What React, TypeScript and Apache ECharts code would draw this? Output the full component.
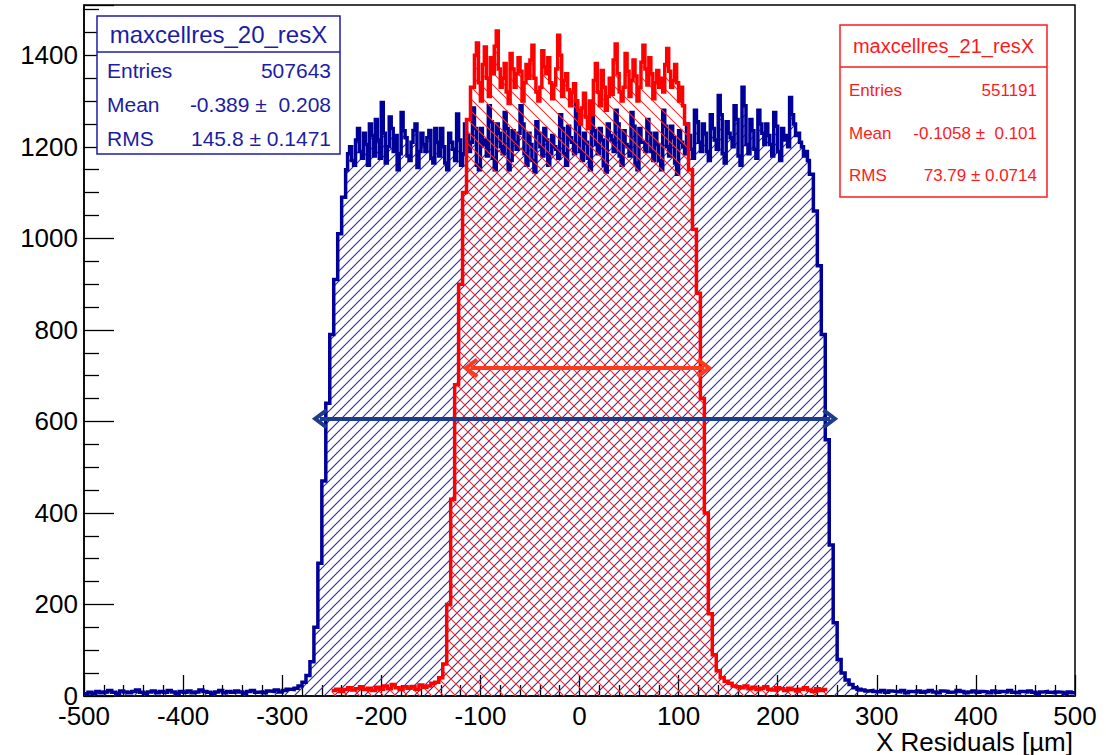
import React, { useEffect, useRef } from 'react';
import * as echarts from 'echarts';

// ---- blue histogram: maxcellres_20_resX ----
// segment starts (lower bin edge, µm) and bin widths (µm)
const blueSegmentStarts = [-500, -292, -236, 232, 284];
const blueSegmentWidths = [4, 4, 2, 4, 4];
const blueTailLeft = [
  5, 8, 6, 10, 7, 9, 12, 8, 6, 11,
  9, 7, 10, 13, 8, 6, 9, 11, 7, 10,
  8, 12, 9, 6, 10, 8, 11, 7, 9, 13,
  10, 8, 6, 9, 12, 7, 10, 8, 11, 9,
  6, 10, 12, 8, 9, 7, 11, 10, 13, 9,
  12, 15,
];
const blueRiseLeft = [14, 17, 22, 30, 45, 75, 150, 290, 470, 640, 790, 910, 1010, 1090];
const bluePlateau = [
  1150, 1185, 1200, 1170, 1160, 1215, 1240, 1190, 1175, 1230,
  1205, 1160, 1250, 1225, 1180, 1260, 1215, 1175, 1297, 1230,
  1165, 1200, 1265, 1240, 1190, 1225, 1150, 1185, 1275, 1235,
  1220, 1180, 1170, 1210, 1236, 1250, 1155, 1190, 1230, 1205,
  1190, 1220, 1236, 1175, 1165, 1240, 1210, 1180, 1240, 1200,
  1165, 1150, 1230, 1210, 1195, 1170, 1272, 1215, 1160, 1185,
  1250, 1225, 1190, 1210, 1285, 1240, 1160, 1150, 1240, 1205,
  1215, 1180, 1290, 1255, 1175, 1150, 1250, 1230, 1200, 1185,
  1275, 1240, 1150, 1170, 1235, 1210, 1195, 1230, 1290, 1250,
  1185, 1160, 1230, 1205, 1170, 1145, 1255, 1230, 1200, 1180,
  1240, 1215, 1160, 1185, 1225, 1200, 1195, 1175, 1270, 1240,
  1185, 1160, 1245, 1220, 1210, 1185, 1300, 1250, 1190, 1170,
  1230, 1210, 1175, 1150, 1265, 1235, 1205, 1185, 1240, 1215,
  1160, 1145, 1250, 1225, 1215, 1190, 1280, 1250, 1180, 1160,
  1235, 1205, 1200, 1180, 1275, 1245, 1165, 1150, 1240, 1210,
  1210, 1190, 1260, 1230, 1190, 1170, 1230, 1205, 1170, 1150,
  1280, 1245, 1200, 1180, 1245, 1220, 1165, 1140, 1235, 1210,
  1200, 1185, 1250, 1225, 1195, 1175, 1280, 1255, 1210, 1190,
  1250, 1230, 1190, 1170, 1270, 1240, 1215, 1195, 1312, 1270,
  1185, 1165, 1255, 1230, 1220, 1200, 1290, 1260, 1180, 1160,
  1330, 1290, 1205, 1185, 1260, 1235, 1195, 1175, 1280, 1250,
  1230, 1205, 1250, 1225, 1205, 1180, 1275, 1245, 1190, 1170,
  1240, 1215, 1225, 1200, 1308, 1270, 1250, 1225, 1230, 1210,
  1200, 1180, 1190, 1170,
];
const blueFallRight = [1140, 1060, 940, 790, 560, 330, 160, 80, 50, 35, 25, 18, 15];
const blueTailRight = [
  13, 11, 12, 10, 9, 12, 8, 11, 10, 9,
  12, 7, 10, 9, 11, 8, 10, 12, 9, 7,
  11, 10, 8, 9, 12, 10, 7, 9, 11, 8,
  10, 9, 7, 11, 8, 10, 9, 12, 8, 7,
  10, 9, 11, 8, 6, 9, 10, 8, 7, 9,
  8, 6, 9, 7,
];

// ---- red histogram: maxcellres_21_resX ----
const redSegmentStarts = [-250, -150, -106, 106, 158];
const redSegmentWidths = [4, 4, 2, 4, 4];
const redTailLeft = [
  12, 15, 10, 14, 18, 13, 16, 20, 14, 17,
  12, 19, 15, 22, 16, 25, 18, 14, 20, 17,
  21, 15, 24, 19, 22,
];
const redRiseLeft = [28, 30, 40, 70, 200, 430, 680, 900, 1100, 1260, 1330];
const redTop = [
  1400, 1427, 1340, 1300, 1380, 1418, 1350, 1310, 1395, 1360,
  1420, 1453, 1370, 1330, 1350, 1382, 1320, 1295, 1404, 1370,
  1330, 1360, 1395, 1365, 1300, 1340, 1380, 1350, 1390, 1422,
  1350, 1320, 1300, 1330, 1410, 1375, 1360, 1395, 1340, 1305,
  1335, 1370, 1444, 1400, 1310, 1345, 1360, 1325, 1290, 1320,
  1338, 1300, 1280, 1250, 1285, 1317, 1265, 1240, 1300, 1270,
  1345, 1382, 1320, 1290, 1367, 1330, 1280, 1310, 1350, 1315,
  1390, 1425, 1360, 1320, 1300, 1330, 1404, 1365, 1310, 1345,
  1390, 1355, 1300, 1330, 1385, 1422, 1370, 1335, 1395, 1360,
  1305, 1340, 1367, 1330, 1350, 1320, 1380, 1415, 1365, 1330,
  1345, 1380, 1340, 1300, 1330, 1290,
];
const redFallRight = [1250, 1150, 1020, 880, 650, 400, 180, 90, 55, 40, 32, 28, 22];
const redTailRight = [
  20, 18, 22, 16, 19, 14, 17, 20, 15, 13,
  18, 16, 12, 17, 14, 11, 15, 18, 13, 10,
  16, 12, 14,
];

// ---- axes ----
const X_MIN = -500;
const X_MAX = 500;
const X_STEP = 100;
const Y_MIN = 0;
const Y_MAX = 1510;
const Y_STEP = 200;
const X_TITLE = 'X Residuals [\u00b5m]';

// ---- annotation arrows (data coords) ----
const redArrow = [[-110, 717], [126, 717]];
const blueArrow = [[-262, 606], [253, 606]];

// ---- stat boxes ----
const blueStatsTitle = 'maxcellres_20_resX';
const blueStatsLabels = ['Entries', 'Mean', 'RMS'];
const blueStatsValues = ['507643', '-0.389 \u00b1  0.208', '145.8 \u00b1 0.1471'];
const redStatsTitle = 'maxcellres_21_resX';
const redStatsLabels = ['Entries', 'Mean', 'RMS'];
const redStatsValues = ['551191', '-0.1058 \u00b1  0.101', '73.79 \u00b1 0.0714'];

const FONT = '"Liberation Sans", Arial, Helvetica, sans-serif';
const BLUE_LINE = '#000099';
const BLUE_HATCH = '#2a2ab0';
const BLUE_BOX = '#1c1ca6';
const RED_LINE = '#ff0000';
const RED_HATCH = '#ff3030';
const RED_BOX = '#ff1a1a';

function buildSteps(starts: number[], widths: number[], segs: number[][]) {
  const pts: number[][] = [];
  let lastW = 0;
  segs.forEach((vals, k) => {
    vals.forEach((v, i) => pts.push([starts[k] + i * widths[k], v]));
    lastW = widths[k];
  });
  const last = pts[pts.length - 1];
  pts.push([last[0] + lastW, last[1]]);
  return pts;
}

function hatch(color: string, size: number, dir: 'fwd' | 'back') {
  const c = document.createElement('canvas');
  c.width = size;
  c.height = size;
  const g = c.getContext('2d')!;
  g.strokeStyle = color;
  g.lineWidth = 1.1;
  g.beginPath();
  if (dir === 'fwd') {
    g.moveTo(0, size); g.lineTo(size, 0);
    g.moveTo(-1, 1); g.lineTo(1, -1);
    g.moveTo(size - 1, size + 1); g.lineTo(size + 1, size - 1);
  } else {
    g.moveTo(0, 0); g.lineTo(size, size);
    g.moveTo(size - 1, -1); g.lineTo(size + 1, 1);
    g.moveTo(-1, size - 1); g.lineTo(1, size + 1);
  }
  g.stroke();
  return { image: c, repeat: 'repeat', imageWidth: size, imageHeight: size } as any;
}

function statBox(
  x: number, y: number, w: number, h: number, sepY: number,
  title: string, titleSize: number, labels: string[], values: string[],
  rowYs: number[], rowSize: number, padL: number, padR: number, color: string,
) {
  const els: any[] = [
    { type: 'rect', shape: { x, y, width: w, height: h }, style: { fill: '#fff', stroke: color, lineWidth: 1.5 }, z: 100 },
    { type: 'line', shape: { x1: x, y1: sepY, x2: x + w, y2: sepY }, style: { stroke: color, lineWidth: 1.5 }, z: 101 },
    {
      type: 'text', z: 101, x: x + w / 2, y: (y + sepY) / 2,
      style: { text: title, fill: color, font: `${titleSize}px ${FONT}`, textAlign: 'center', textVerticalAlign: 'middle' },
    },
  ];
  labels.forEach((lab, i) => {
    els.push({
      type: 'text', z: 101, x: x + padL, y: rowYs[i],
      style: { text: lab, fill: color, font: `${rowSize}px ${FONT}`, textAlign: 'left', textVerticalAlign: 'middle' },
    });
    els.push({
      type: 'text', z: 101, x: x + w - padR, y: rowYs[i],
      style: { text: values[i], fill: color, font: `${rowSize}px ${FONT}`, textAlign: 'right', textVerticalAlign: 'middle' },
    });
  });
  return els;
}

const CHEVRON = 'path://M10,0 L20,12 L17,14.5 L10,6 L3,14.5 L0,12 Z';

export default function App() {
  const ref = useRef<HTMLDivElement>(null);
  useEffect(() => {
    if (!ref.current) return;
    const chart = echarts.init(ref.current, null, { renderer: 'svg' });
    const bluePts = buildSteps(blueSegmentStarts, blueSegmentWidths,
      [blueTailLeft, blueRiseLeft, bluePlateau, blueFallRight, blueTailRight]);
    const redPts = buildSteps(redSegmentStarts, redSegmentWidths,
      [redTailLeft, redRiseLeft, redTop, redFallRight, redTailRight]);

    const axisLabel = { color: '#000', fontSize: 26, fontFamily: FONT, formatter: (v: number) => String(v) };
    chart.setOption({
      animation: false,
      backgroundColor: '#fff',
      grid: { left: 84, right: 31, top: 5, bottom: 59, show: true, borderColor: '#000', borderWidth: 1.5, backgroundColor: 'transparent' },
      xAxis: {
        type: 'value', min: X_MIN, max: X_MAX, interval: X_STEP,
        axisLine: { show: true, onZero: false, lineStyle: { color: '#000', width: 1.5 } },
        axisTick: { show: true, inside: true, length: 21, lineStyle: { color: '#000', width: 1.3 } },
        minorTick: { show: true, splitNumber: 5, length: 11, lineStyle: { color: '#000', width: 1.3 } },
        splitLine: { show: false },
        axisLabel: { ...axisLabel, margin: 7 },
      },
      yAxis: {
        type: 'value', min: Y_MIN, max: Y_MAX, interval: Y_STEP,
        axisLine: { show: true, onZero: false, lineStyle: { color: '#000', width: 1.5 } },
        axisTick: { show: true, inside: true, length: 30, lineStyle: { color: '#000', width: 1.3 } },
        minorTick: { show: true, splitNumber: 4, length: 15, lineStyle: { color: '#000', width: 1.3 } },
        splitLine: { show: false },
        axisLabel: { ...axisLabel, margin: 6, showMaxLabel: false },
      },
      series: [
        {
          type: 'line', step: 'end', data: bluePts, symbol: 'none', silent: true, z: 2,
          lineStyle: { color: BLUE_LINE, width: 3.5, join: 'miter' },
          areaStyle: { color: hatch(BLUE_HATCH, 10, 'fwd'), opacity: 1 },
        },
        {
          type: 'line', step: 'end', data: redPts, symbol: 'none', silent: true, z: 3,
          lineStyle: { color: RED_LINE, width: 3.5, join: 'miter' },
          areaStyle: { color: hatch(RED_HATCH, 12, 'back'), opacity: 1 },
          markLine: {
            silent: true, animation: false,
            symbol: [CHEVRON, CHEVRON], symbolSize: [20, 16],
            label: { show: false },
            data: [
              [{ coord: redArrow[0], lineStyle: { color: '#ff3a1a', width: 4, type: 'solid' }, itemStyle: { color: '#ff3a1a' } }, { coord: redArrow[1] }],
              [{ coord: blueArrow[0], lineStyle: { color: '#1e3c8c', width: 4, type: 'solid' }, itemStyle: { color: '#1e3c8c' } }, { coord: blueArrow[1] }],
            ],
          },
        },
      ],
      graphic: [
        ...statBox(97, 16, 243, 138, 52, blueStatsTitle, 24, blueStatsLabels, blueStatsValues, [70, 104.5, 138.5], 21, 10, 9, BLUE_BOX),
        ...statBox(840, 25, 207, 172, 67, redStatsTitle, 20, redStatsLabels, redStatsValues, [90, 133, 175.5], 17, 9, 10, RED_BOX),
        {
          type: 'text', z: 101, x: 1073, y: 742,
          style: { text: X_TITLE, fill: '#000', font: `26px ${FONT}`, textAlign: 'right', textVerticalAlign: 'middle' },
        },
      ],
    });
    return () => chart.dispose();
  }, []);
  return <div ref={ref} style={{ position: 'absolute', left: 0, top: 0, width: 1106, height: 755 }} />;
}
